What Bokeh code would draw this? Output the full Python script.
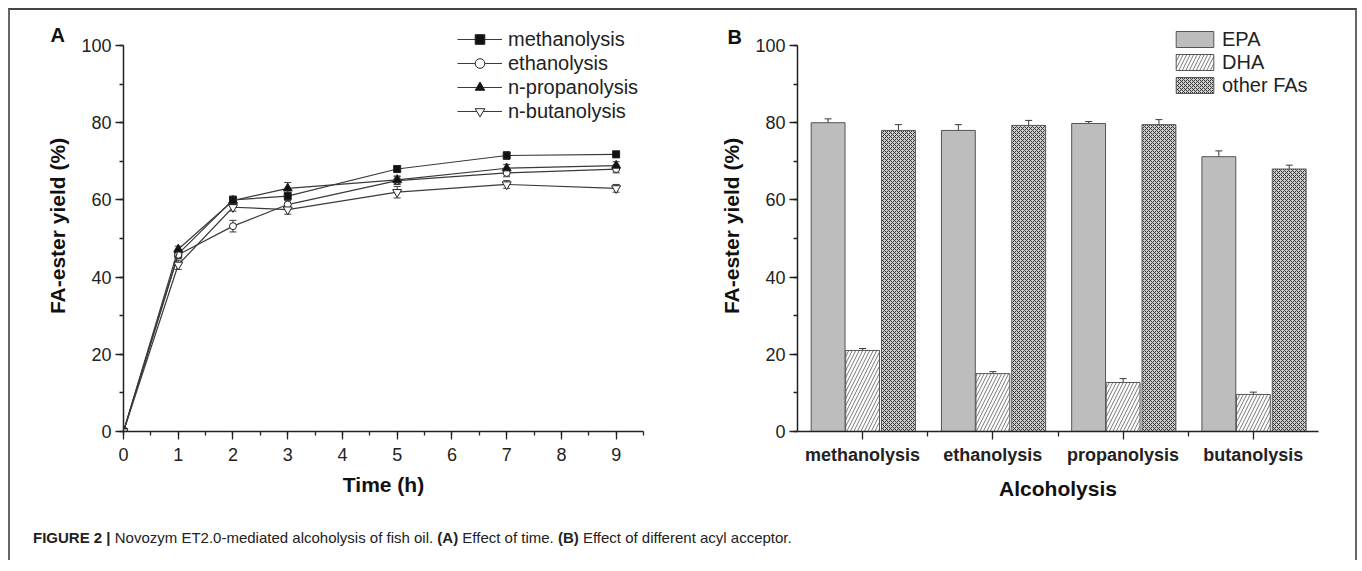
from bokeh.plotting import figure
from bokeh.models import (Range1d, SingleIntervalTicker, FixedTicker, Whisker, TeeHead,
                          ColumnDataSource, Legend, LegendItem, Label, Div, Title)
from bokeh.layouts import row, column
from bokeh.embed import file_html
from bokeh.resources import INLINE

# ---------------- data ----------------
time_h = [0, 1, 2, 3, 5, 7, 9]
methanolysis = [0, 46.0, 60.0, 61.0, 68.0, 71.5, 71.8]
methanolysis_err = [0, 1.0, 1.0, 1.0, 0.7, 1.0, 0.8]
ethanolysis = [0, 45.8, 53.2, 58.8, 65.0, 67.0, 68.0]
ethanolysis_err = [0, 1.0, 1.5, 1.0, 1.0, 1.0, 1.0]
propanolysis = [0, 47.2, 59.8, 63.0, 65.2, 68.2, 68.9]
propanolysis_err = [0, 0.8, 1.0, 1.5, 1.0, 1.0, 1.0]
butanolysis = [0, 43.2, 58.1, 57.5, 62.0, 64.0, 63.0]
butanolysis_err = [0, 1.2, 1.0, 1.2, 1.5, 1.0, 1.0]
series_names = ["methanolysis", "ethanolysis", "n-propanolysis", "n-butanolysis"]

alcoholysis = ["methanolysis", "ethanolysis", "propanolysis", "butanolysis"]
epa = [80.0, 78.0, 79.8, 71.2]
epa_err = [1.0, 1.5, 0.5, 1.5]
dha = [21.0, 15.0, 12.7, 9.6]
dha_err = [0.5, 0.5, 1.0, 0.6]
other_fas = [78.0, 79.3, 79.5, 68.0]
other_err = [1.5, 1.3, 1.3, 1.0]
bar_names = ["EPA", "DHA", "other FAs"]

FONT = "Liberation Sans"
INK = "#222222"
LINE = "#3a3a3a"
Y_TOP = 106.48   # frame reaches a little above 100 so legends fit inside it


def style_axes(p):
    for ax in (p.xaxis[0], p.yaxis[0]):
        ax.axis_line_color = INK
        ax.axis_line_width = 1.5
        ax.major_tick_line_color = INK
        ax.minor_tick_line_color = INK
        ax.major_tick_line_width = 1.3
        ax.minor_tick_line_width = 1.3
        ax.major_tick_in = 0
        ax.minor_tick_in = 0
        ax.major_tick_out = 8
        ax.minor_tick_out = 4
        ax.major_label_text_font = FONT
        ax.major_label_text_font_size = "18px"
        ax.major_label_text_color = INK
        ax.axis_label_text_font = FONT
        ax.axis_label_text_font_size = "21px"
        ax.axis_label_text_font_style = "bold"
        ax.axis_label_text_color = "#111111"
    p.yaxis[0].major_label_standoff = 4
    p.yaxis[0].axis_label_standoff = 9
    p.yaxis[0].bounds = (0, 100)
    p.xaxis[0].major_label_standoff = 8
    p.xaxis[0].axis_label_standoff = 9
    p.xgrid.visible = False
    p.ygrid.visible = False
    p.outline_line_color = None


# ---------------- panel A ----------------
pA = figure(frame_width=520, frame_height=411, output_backend="svg", toolbar_location=None,
            x_range=Range1d(0, 9.5), y_range=Range1d(0, Y_TOP),
            min_border_left=113, min_border_right=37, min_border_top=10, min_border_bottom=69,
            x_axis_label="Time (h)", y_axis_label="FA-ester yield (%)")
style_axes(pA)
pA.xaxis.ticker = SingleIntervalTicker(interval=1, num_minor_ticks=2)
pA.yaxis.ticker = SingleIntervalTicker(interval=20, num_minor_ticks=2)

series = [methanolysis, ethanolysis, propanolysis, butanolysis]
errs = [methanolysis_err, ethanolysis_err, propanolysis_err, butanolysis_err]
markers = [("square", 7, "#111111"), ("circle", 7, "white"),
           ("triangle", 9, "#111111"), ("inverted_triangle", 9, "white")]
items = []
for name, ys, es, (mk, sz, fc) in zip(series_names, series, errs, markers):
    ln = pA.line(time_h, ys, line_color=LINE, line_width=1.2)
    keep = [i for i, e in enumerate(es) if e > 0]
    src = ColumnDataSource(dict(x=[time_h[i] for i in keep],
                                upper=[ys[i] + es[i] for i in keep],
                                lower=[ys[i] - es[i] for i in keep]))
    pA.add_layout(Whisker(source=src, base="x", upper="upper", lower="lower",
                          line_color=LINE, line_width=1,
                          upper_head=TeeHead(size=7, line_color=LINE, line_width=1),
                          lower_head=TeeHead(size=7, line_color=LINE, line_width=1)))
    sc = pA.scatter(time_h, ys, marker=mk, size=sz, fill_color=fc, line_color="#222222",
                    line_width=1)
    items.append(LegendItem(label=name, renderers=[ln, sc]))

legA = Legend(items=items, location=(334, 308), glyph_width=45, glyph_height=24,
              spacing=0, padding=0, margin=0, label_standoff=6,
              label_text_font=FONT, label_text_font_size="20px", label_text_color=INK,
              border_line_color=None, background_fill_alpha=0)
pA.add_layout(legA)
pA.add_layout(Label(x=-1.332, y=102.6, text="A", text_baseline="alphabetic",
                    text_font=FONT, text_font_size="20px", text_font_style="bold",
                    text_color="#111111"), "left")

# ---------------- panel B ----------------
n = len(alcoholysis)
pB = figure(frame_width=521, frame_height=411, output_backend="svg", toolbar_location=None,
            x_range=Range1d(0, n), y_range=Range1d(0, Y_TOP),
            min_border_left=117, min_border_right=37, min_border_top=10, min_border_bottom=69,
            x_axis_label="Alcoholysis", y_axis_label="FA-ester yield (%)")
style_axes(pB)
pB.yaxis.ticker = SingleIntervalTicker(interval=20, num_minor_ticks=2)
centers = [i + 0.5 for i in range(n)]
pB.xaxis.ticker = FixedTicker(ticks=centers, minor_ticks=[i for i in range(1, n)])
pB.xaxis.major_label_overrides = {c: name for c, name in zip(centers, alcoholysis)}
pB.xaxis.major_label_text_font_style = "bold"
pB.xaxis.major_label_text_font_size = "18px"
pB.xaxis.major_label_standoff = 5
pB.xaxis.minor_tick_out = 5

bar_w = 0.26
offsets = [-0.265, 0.0, 0.275]
bar_values = [epa, dha, other_fas]
bar_errs = [epa_err, dha_err, other_err]
bar_styles = [
    dict(fill_color="#bdbdbd"),
    dict(fill_color="white", hatch_pattern="/", hatch_color="#777777", hatch_scale=7,
         hatch_weight=1),
    dict(fill_color="#cfcfcf", hatch_pattern="x", hatch_color="#333333", hatch_scale=4,
         hatch_weight=1),
]
bitems = []
for name, vals, es, off, st in zip(bar_names, bar_values, bar_errs, offsets, bar_styles):
    xs = [c + off for c in centers]
    r = pB.vbar(x=xs, top=vals, width=bar_w, line_color="#555555", line_width=1, **st)
    src = ColumnDataSource(dict(x=xs, upper=[v + e for v, e in zip(vals, es)],
                                lower=[v - e for v, e in zip(vals, es)]))
    pB.add_layout(Whisker(source=src, base="x", upper="upper", lower="lower",
                          line_color=LINE, line_width=1,
                          upper_head=TeeHead(size=7, line_color=LINE, line_width=1),
                          lower_head=TeeHead(size=7, line_color=LINE, line_width=1)))
    bitems.append(LegendItem(label=name, renderers=[r]))

legB = Legend(items=bitems, location=(374, 334.5), glyph_width=47, glyph_height=20,
              spacing=0, padding=0, margin=0, label_standoff=4,
              label_text_font=FONT, label_text_font_size="20px", label_text_color=INK,
              border_line_color=None, background_fill_alpha=0)
pB.add_layout(legB)
pB.title = Title(text="B", align="left", offset=-70, standoff=-54,
                 text_font=FONT, text_font_size="20px", text_font_style="bold",
                 text_color="#111111")

caption = Div(
    text='<b>FIGURE 2 |</b> Novozym ET2.0-mediated alcoholysis of fish oil. '
         '<b>(A)</b> Effect of time. <b>(B)</b> Effect of different acyl acceptor.',
    width=1320, height=48,
    styles={"font-family": FONT, "font-size": "15px", "color": "#222222",
            "padding-left": "18px", "padding-top": "20px"})

layout = column(row(pA, pB), caption,
                styles={"margin-left": "8px", "margin-top": "8px",
                        "border-top": "2px solid #444444", "border-left": "2px solid #666666",
                        "border-right": "2px solid #666666"})

open("out.html", "w").write(file_html(layout, INLINE))
